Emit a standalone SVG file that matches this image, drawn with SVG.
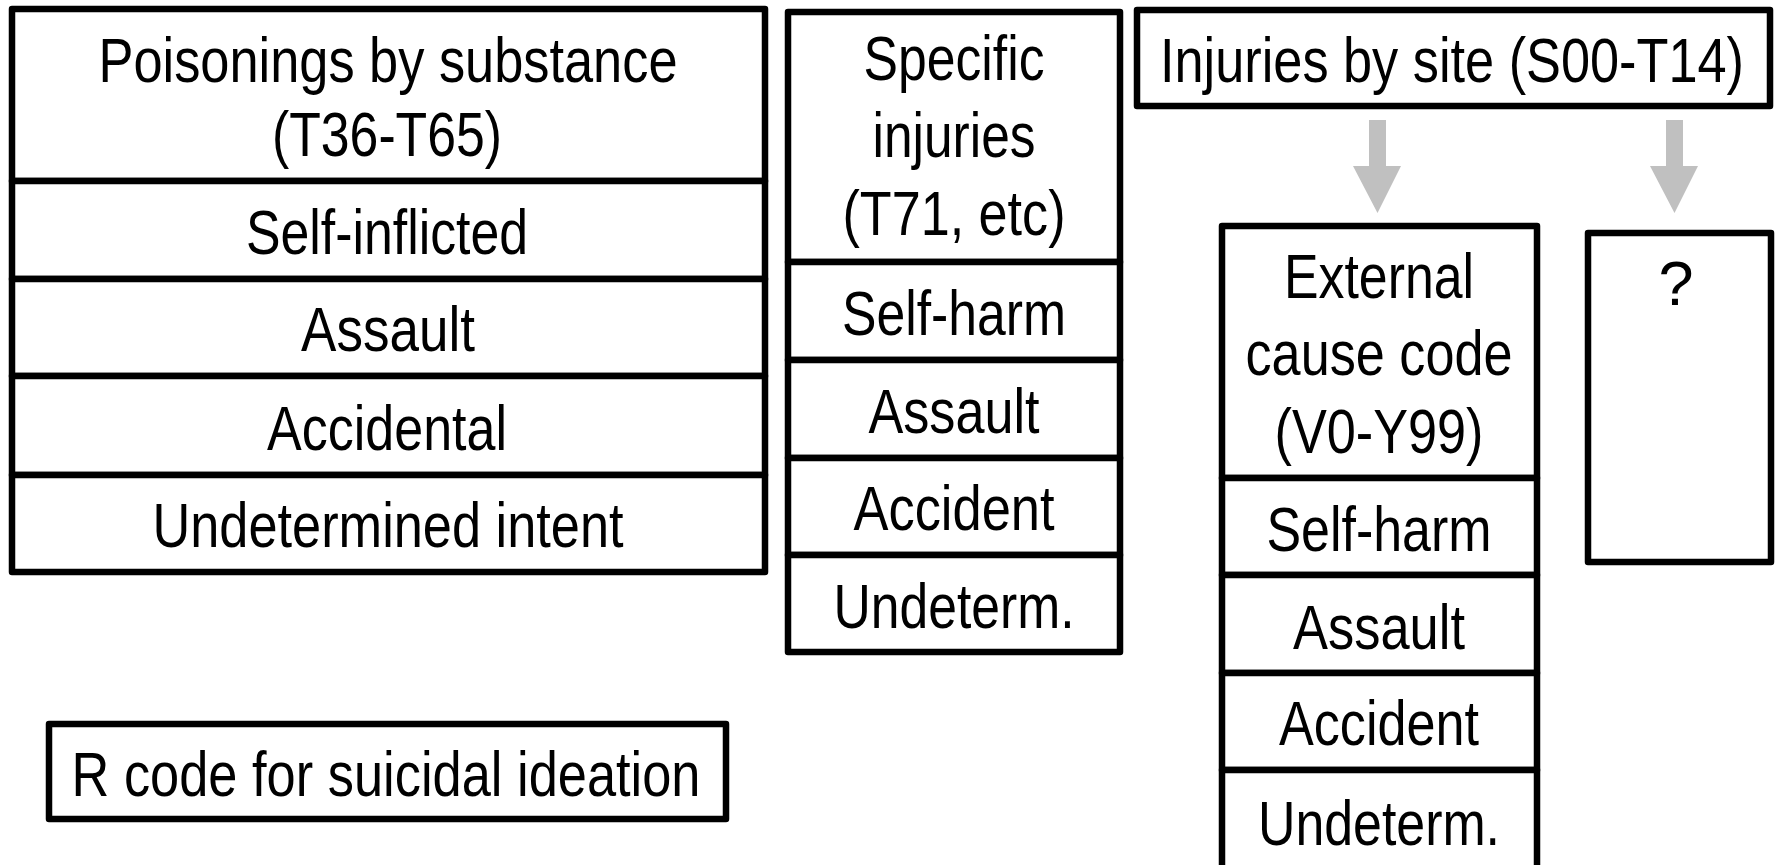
<svg xmlns="http://www.w3.org/2000/svg" width="1776" height="865" viewBox="0 0 1776 865">
<style>
.b{fill:#fff;stroke:#000;stroke-width:6.5;stroke-linejoin:round}
.t{font-family:"Liberation Sans",Arial,sans-serif;font-size:63px;fill:#000;text-anchor:middle}
.ar{fill:#c0c0c0}
</style>
<rect width="1776" height="865" fill="#fff"/>
<g id="poisonings">
<rect class="b" x="12" y="9" width="753" height="172"/>
<rect class="b" x="12" y="181" width="753" height="98"/>
<rect class="b" x="12" y="279" width="753" height="97"/>
<rect class="b" x="12" y="376" width="753" height="99"/>
<rect class="b" x="12" y="475" width="753" height="97"/>
<text class="t" x="388" y="82" textLength="579" lengthAdjust="spacingAndGlyphs">Poisonings by substance</text>
<text class="t" x="387" y="156" textLength="230" lengthAdjust="spacingAndGlyphs">(T36-T65)</text>
<text class="t" x="387" y="254" textLength="282" lengthAdjust="spacingAndGlyphs">Self-inflicted</text>
<text class="t" x="388" y="351" textLength="174" lengthAdjust="spacingAndGlyphs">Assault</text>
<text class="t" x="387" y="450" textLength="240" lengthAdjust="spacingAndGlyphs">Accidental</text>
<text class="t" x="388" y="547" textLength="471" lengthAdjust="spacingAndGlyphs">Undetermined intent</text>
</g>
<g id="specific">
<rect class="b" x="788" y="12" width="332" height="250"/>
<rect class="b" x="788" y="262" width="332" height="98"/>
<rect class="b" x="788" y="360" width="332" height="98"/>
<rect class="b" x="788" y="458" width="332" height="97"/>
<rect class="b" x="788" y="555" width="332" height="97"/>
<text class="t" x="954" y="80" textLength="181" lengthAdjust="spacingAndGlyphs">Specific</text>
<text class="t" x="954" y="157" textLength="163" lengthAdjust="spacingAndGlyphs">injuries</text>
<text class="t" x="954" y="235" textLength="223" lengthAdjust="spacingAndGlyphs">(T71, etc)</text>
<text class="t" x="954" y="335" textLength="224" lengthAdjust="spacingAndGlyphs">Self-harm</text>
<text class="t" x="954" y="433" textLength="171" lengthAdjust="spacingAndGlyphs">Assault</text>
<text class="t" x="954" y="530" textLength="201" lengthAdjust="spacingAndGlyphs">Accident</text>
<text class="t" x="954" y="628" textLength="241" lengthAdjust="spacingAndGlyphs">Undeterm.</text>
</g>
<g id="injuries-site">
<rect class="b" x="1137" y="10" width="633" height="96"/>
<text class="t" x="1452" y="82" textLength="584" lengthAdjust="spacingAndGlyphs">Injuries by site (S00-T14)</text>
</g>
<g id="connectors">
<polygon class="ar" points="1369,120 1386,120 1386,166 1401,166 1377.5,213 1353,166 1369,166"/>
<polygon class="ar" points="1666,120 1683,120 1683,166 1698,166 1674.5,213 1650,166 1666,166"/>
</g>
<g id="external">
<rect class="b" x="1222" y="226" width="315" height="252"/>
<rect class="b" x="1222" y="478" width="315" height="97"/>
<rect class="b" x="1222" y="575" width="315" height="98"/>
<rect class="b" x="1222" y="673" width="315" height="97"/>
<rect class="b" x="1222" y="770" width="315" height="100"/>
<text class="t" x="1379" y="298" textLength="190" lengthAdjust="spacingAndGlyphs">External</text>
<text class="t" x="1379" y="375" textLength="267" lengthAdjust="spacingAndGlyphs">cause code</text>
<text class="t" x="1379" y="453" textLength="209" lengthAdjust="spacingAndGlyphs">(V0-Y99)</text>
<text class="t" x="1379" y="551" textLength="225" lengthAdjust="spacingAndGlyphs">Self-harm</text>
<text class="t" x="1379" y="649" textLength="172" lengthAdjust="spacingAndGlyphs">Assault</text>
<text class="t" x="1379" y="745" textLength="200" lengthAdjust="spacingAndGlyphs">Accident</text>
<text class="t" x="1379" y="845" textLength="242" lengthAdjust="spacingAndGlyphs">Undeterm.</text>
</g>
<g id="unknown">
<rect class="b" x="1588" y="233" width="183" height="329"/>
<text class="t" x="1676" y="305">?</text>
</g>
<g id="rcode">
<rect class="b" x="49" y="724" width="677" height="95"/>
<text class="t" x="386" y="796" textLength="629" lengthAdjust="spacingAndGlyphs">R code for suicidal ideation</text>
</g>
</svg>
